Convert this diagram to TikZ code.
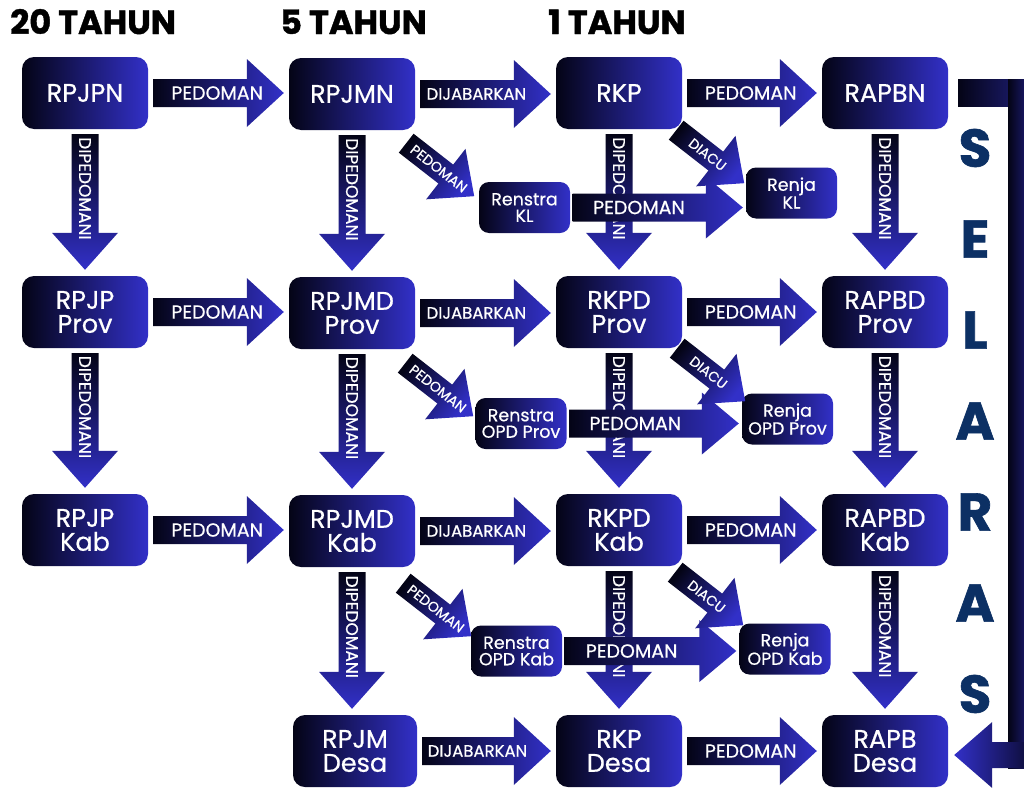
\documentclass[tikz,border=0pt]{standalone}
\usepackage{fontspec}
\setmainfont{Poppins}
\newfontfamily\medfont{Poppins}[FakeBold=0.6]
\newfontfamily\heavyfont{Poppins}[BoldFeatures={FakeBold=1.2}]
\usetikzlibrary{calc}
\definecolor{bblue}{RGB}{50,48,200}
\definecolor{bdark}{RGB}{4,4,22}
\definecolor{navytxt}{RGB}{12,48,100}
\definecolor{barnavy}{RGB}{30,30,120}

\tikzset{
  bigbox/.style={rounded corners=12pt, minimum width=126pt, minimum height=72pt,
    left color=bdark, right color=bblue, text=white, align=center, inner sep=0pt,
    font=\medfont\fontsize{25.5}{24}\selectfont},
  smallbox/.style={rounded corners=10pt, minimum width=91pt, minimum height=51pt,
    left color=bdark, right color=bblue, text=white, align=center, inner sep=0pt,
    font=\medfont\fontsize{17.5}{16.5}\selectfont},
  hshade/.style={left color=bdark, right color=bblue},
  vshade/.style={top color=bdark, bottom color=bblue},
  dshade/.style={top color=bdark, bottom color=bblue, shading angle=52},
  lbl/.style={text=white, inner sep=0pt, font=\medfont\fontsize{19}{19}\selectfont},
  smlbl/.style={text=white, inner sep=0pt, font=\medfont\fontsize{14}{14}\selectfont},
  title/.style={anchor=base west, inner sep=0pt, font=\heavyfont\bfseries\fontsize{33.5}{33.5}\selectfont},
  selaras/.style={text=navytxt, inner sep=0pt, font=\heavyfont\bfseries\fontsize{53}{53}\selectfont}
}

% #1 start, #2 tip, #3 shaft half width, #4 head half width, #5 head length, #6 shading style
\newcommand\blockarrow[6]{%
  \coordinate (bkH) at ($(#2)!#5!(#1)$);
  \shade[#6] ($(#1)!#3!90:(#2)$) -- ($(bkH)!#3!90:(#2)$) -- ($(bkH)!#4!90:(#2)$)
    -- (#2) -- ($(bkH)!#4!-90:(#2)$) -- ($(bkH)!#3!-90:(#2)$)
    -- ($(#1)!#3!-90:(#2)$) -- cycle;
}
% horizontal arrow between two big boxes
\newcommand\harrow[4][]{%
  \coordinate (hS) at ($(#2.east)+(5,0)$);
  \coordinate (hT) at ($(#3.west |- hS)+(-5,0)$);
  \blockarrow{hS}{hT}{14pt}{34pt}{37pt}{hshade}
  \path (hS) -- (hT) node[lbl,pos=0.49,#1] {#4};
}
% vertical arrow between two big boxes
\newcommand\varrow[2]{%
  \coordinate (vS) at ($(#1.south)+(0,5)$);
  \coordinate (vT) at ($(#2.north -| vS)+(0,-6)$);
  \blockarrow{vS}{vT}{13.5pt}{33pt}{37pt}{vshade}
  \path (vS) -- (vT) node[lbl,pos=0.4,rotate=-90,font=\medfont\fontsize{17}{17}\selectfont] {DIPEDOMANI};
}
% diagonal arrow: #1 source box, #2 offset from its south east, #3 label, #4 label pos
\newcommand\darrow[4]{%
  \coordinate (dS) at ($(#1.south east)+#2$);
  \coordinate (dT) at ($(dS)+(68,53)$);
  \blockarrow{dS}{dT}{12pt}{32pt}{36pt}{dshade}
  \path (dS) -- (dT) node[smlbl,pos=#4,rotate=-38] {#3};
}
% long arrow between the small boxes
\newcommand\larrow[2]{%
  \coordinate (lS) at ($(#1.east)+(2.5,0)$);
  \coordinate (lT) at ($(#2.west |- lS)+(-3,0)$);
  \blockarrow{lS}{lT}{14pt}{31pt}{37pt}{hshade}
  \path (lS) -- (lT) node[lbl,pos=0.39] {PEDOMAN};
}

\begin{document}
\begin{tikzpicture}[x=1pt,y=-1pt]
\useasboundingbox (0,0) rectangle (1024,787);
\clip (0,0) rectangle (1024,787);

% titles
\node[title] (t20) at (10,34) {20 TAHUN};
\node[title] (t5) at (280,34) {5 TAHUN};
\node[title] (t1) at (548,34) {1 TAHUN};

% big boxes
\node[bigbox] (rpjpn) at (85,93) {RPJPN};
\node[bigbox] (rpjmn) at (352,94) {RPJMN};
\node[bigbox] (rkp) at (619,93) {RKP};
\node[bigbox] (rapbn) at (885,93) {RAPBN};

\node[bigbox] (rpjpprov) at (85,312) {RPJP\\Prov};
\node[bigbox] (rpjmdprov) at (352,313) {RPJMD\\Prov};
\node[bigbox] (rkpdprov) at (619,312) {RKPD\\Prov};
\node[bigbox] (rapbdprov) at (885,312) {RAPBD\\Prov};

\node[bigbox] (rpjpkab) at (85,530) {RPJP\\Kab};
\node[bigbox] (rpjmdkab) at (352,531) {RPJMD\\Kab};
\node[bigbox] (rkpdkab) at (619,530) {RKPD\\Kab};
\node[bigbox] (rapbdkab) at (885,530) {RAPBD\\Kab};

\node[bigbox, minimum width=124pt] (rpjmdesa) at (355,751) {RPJM\\Desa};
\node[bigbox] (rkpdesa) at (619,751) {RKP\\Desa};
\node[bigbox] (rapbdesa) at (885,751) {RAPB\\Desa};

% small boxes
\node[smallbox] (renstrakl) at (524.5,207.5) {Renstra\\KL};
\node[smallbox] (renjakl) at (791.5,193) {Renja\\KL};
\node[smallbox] (renstraprov) at (521,423.5) {Renstra\\OPD Prov};
\node[smallbox] (renjaprov) at (787.5,419) {Renja\\OPD Prov};
\node[smallbox] (renstrakab) at (516.5,651) {Renstra\\OPD Kab};
\node[smallbox] (renjakab) at (785,649) {Renja\\OPD Kab};

% horizontal arrows
\harrow{rpjpn}{rpjmn}{PEDOMAN}
\harrow[pos=0.43,font=\medfont\fontsize{16.5}{16.5}\selectfont]{rpjmn}{rkp}{DIJABARKAN}
\harrow{rkp}{rapbn}{PEDOMAN}
\harrow{rpjpprov}{rpjmdprov}{PEDOMAN}
\harrow[pos=0.43,font=\medfont\fontsize{16.5}{16.5}\selectfont]{rpjmdprov}{rkpdprov}{DIJABARKAN}
\harrow{rkpdprov}{rapbdprov}{PEDOMAN}
\harrow{rpjpkab}{rpjmdkab}{PEDOMAN}
\harrow[pos=0.43,font=\medfont\fontsize{16.5}{16.5}\selectfont]{rpjmdkab}{rkpdkab}{DIJABARKAN}
\harrow{rkpdkab}{rapbdkab}{PEDOMAN}
\harrow[pos=0.43,font=\medfont\fontsize{16.5}{16.5}\selectfont]{rpjmdesa}{rkpdesa}{DIJABARKAN}
\harrow{rkpdesa}{rapbdesa}{PEDOMAN}

% vertical arrows
\varrow{rpjpn}{rpjpprov}
\varrow{rpjpprov}{rpjpkab}
\varrow{rpjmn}{rpjmdprov}
\varrow{rpjmdprov}{rpjmdkab}
\varrow{rpjmdkab}{rpjmdesa}
\varrow{rkp}{rkpdprov}
\varrow{rkpdprov}{rkpdkab}
\varrow{rkpdkab}{rkpdesa}
\varrow{rapbn}{rapbdprov}
\varrow{rapbdprov}{rapbdkab}
\varrow{rapbdkab}{rapbdesa}

% long arrows Renstra -> Renja
\larrow{renstrakl}{renjakl}
\larrow{renstraprov}{renjaprov}
\larrow{renstrakab}{renjakab}

% diagonal arrows
\darrow{rpjmn}{(-9,13)}{PEDOMAN}{0.48}
\darrow{rpjmdprov}{(-10,14)}{PEDOMAN}{0.48}
\darrow{rpjmdkab}{(-12,16)}{PEDOMAN}{0.48}
\darrow{rkp}{(-6,1)}{DIACU}{0.46}
\darrow{rkpdprov}{(-5,0)}{DIACU}{0.46}
\darrow{rkpdkab}{(-7,6)}{DIACU}{0.46}

% SELARAS bracket from RAPBN to RAPB Desa
\coordinate (selTop) at ($(rapbn.east)+(10,0)$);
\coordinate (selS) at ($(rapbdesa.east)+(100,4)$);
\coordinate (selT) at ($(rapbdesa.east)+(6,4)$);
\shade[left color=bdark, right color=barnavy] ($(selTop)+(0,-14)$) rectangle ($(selTop)+(70,13)$);
\shade[left color=bdark, right color=bblue] ($(selTop)+(50,-14)$) rectangle ($(selS)+(0,13)$);
\blockarrow{selS}{selT}{13pt}{33pt}{38pt}{left color=bblue, right color=bdark}

% SELARAS letters
\node[selaras] (s1) at (975,148) {S};
\node[selaras] (s2) at (975,239) {E};
\node[selaras] (s3) at (975,330) {L};
\node[selaras] (s4) at (975,421) {A};
\node[selaras] (s5) at (975,512) {R};
\node[selaras] (s6) at (975,603) {A};
\node[selaras] (s7) at (975,694) {S};
\end{tikzpicture}
\end{document}
